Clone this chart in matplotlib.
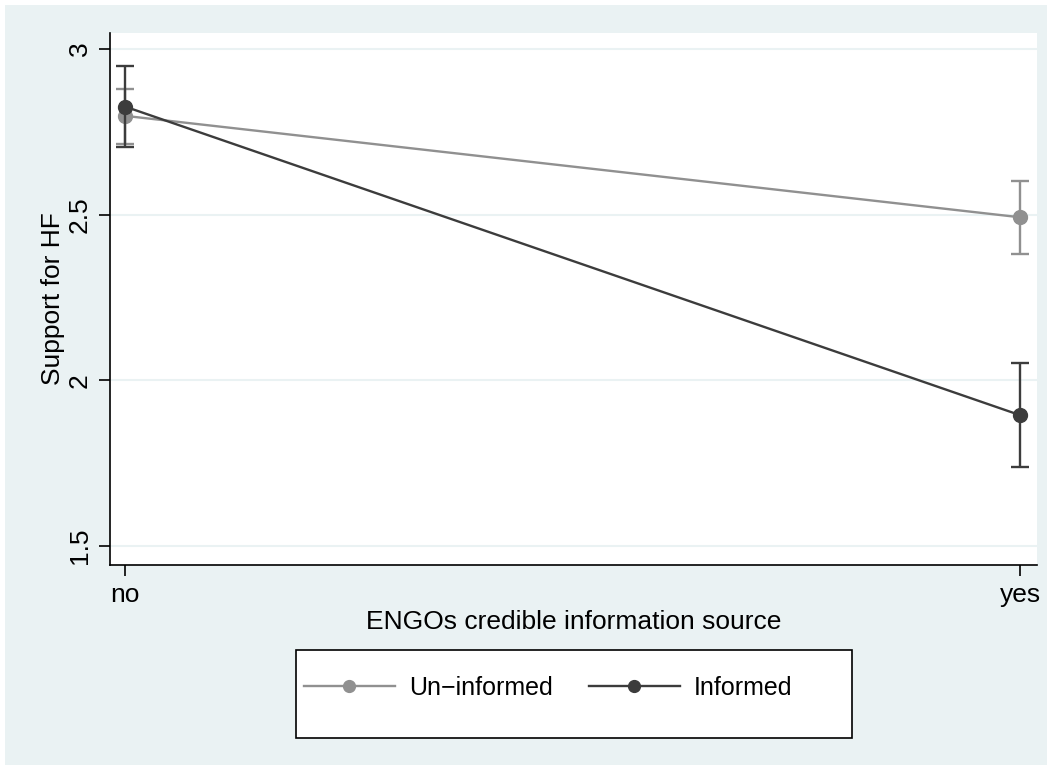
import matplotlib.pyplot as plt
from matplotlib.patches import Rectangle

plt.rcParams['font.family'] = ['Liberation Sans', 'DejaVu Sans']

# Data
categories = ["no", "yes"]
uninformed_mean = [2.798, 2.492]
uninformed_lo = [2.712, 2.382]
uninformed_hi = [2.880, 2.602]
informed_mean = [2.826, 1.895]
informed_lo = [2.704, 1.740]
informed_hi = [2.949, 2.052]
y_ticks = [1.5, 2, 2.5, 3]
y_tick_labels = ["1.5", "2", "2.5", "3"]

BG = "#EAF2F3"
GRAY = "#909090"
DARK = "#3C3C3C"
FS = 19

fig = plt.figure(figsize=(10.52, 7.7), dpi=100, facecolor="white")
fig.patches.append(Rectangle((5 / 1052, 5 / 770), 1042 / 1052, 760 / 770,
                             transform=fig.transFigure, facecolor=BG,
                             edgecolor="none", zorder=-10))

ax = fig.add_axes([110 / 1052, 1 - 565 / 770, 927 / 1052, 532 / 770])
ax.set_facecolor("white")

x = list(range(len(categories)))


def draw_series(mean, lo, hi, color, label, z):
    yerr = [[m - l for m, l in zip(mean, lo)], [h - m for m, h in zip(mean, hi)]]
    ax.errorbar(x, mean, yerr=yerr, fmt="none", ecolor=color, elinewidth=1.7,
                capsize=6.5, capthick=1.7, zorder=z)
    ax.plot(x, mean, color=color, lw=1.7, marker="o", markersize=10,
            markeredgecolor=color, label=label, zorder=z + 0.5)


draw_series(uninformed_mean, uninformed_lo, uninformed_hi, GRAY, "Un\u2212informed", 3)
draw_series(informed_mean, informed_lo, informed_hi, DARK, "Informed", 4)

ax.set_xlim(-0.0168, 1.019)
ax.set_ylim(1.4428, 3.048)
ax.set_xticks(x)
ax.set_xticklabels(categories, fontsize=FS)
ax.set_yticks(y_ticks)
ax.set_yticklabels(y_tick_labels, fontsize=FS, rotation=90, va="center")
ax.grid(axis="y", color=BG, lw=1.5, zorder=0)
ax.set_axisbelow(True)
for side in ["top", "right"]:
    ax.spines[side].set_visible(False)
for side in ["left", "bottom"]:
    ax.spines[side].set_linewidth(1.2)
ax.tick_params(direction="out", length=8, width=1.2, pad=5)

ax.set_xlabel("ENGOs credible information source", fontsize=FS, labelpad=2)
ax.set_ylabel("Support for HF", fontsize=FS, labelpad=2)

# legend box in Stata style
fig.patches.append(Rectangle((296 / 1052, 1 - 738 / 770), 556 / 1052, 88 / 770,
                             transform=fig.transFigure, facecolor="white",
                             edgecolor="black", lw=1.2, zorder=5))
fig.legend(loc="center", bbox_to_anchor=(548 / 1052, 1 - 688 / 770), ncol=2,
           frameon=False, fontsize=18, handlelength=3.64, columnspacing=1.45,
           handletextpad=0.56, markerscale=0.85)

fig.savefig("out.png", dpi=100, facecolor="white")
